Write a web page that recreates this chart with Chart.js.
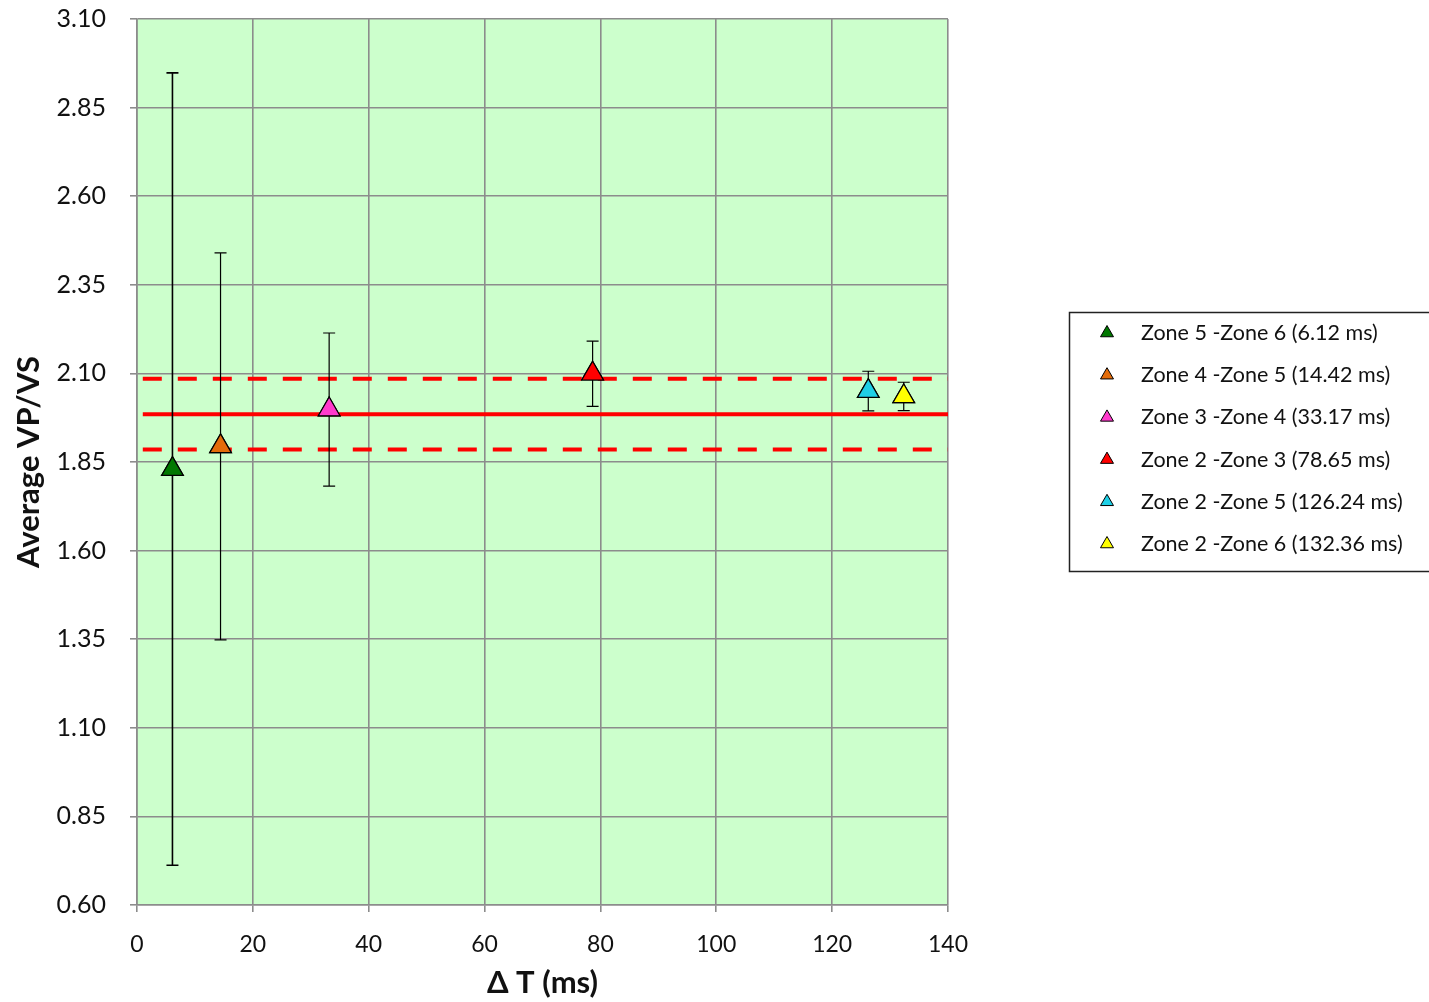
<!DOCTYPE html>
<html lang="en">
<head>
  <meta charset="UTF-8" />
  <title>Average VP/VS vs ΔT</title>
  <script src="https://cdn.jsdelivr.net/npm/chart.js"></script>
  <style>
    html, body { margin: 0; padding: 0; background: #fff; }
    #wrap { width: 1429px; height: 1002px; position: relative; }
  </style>
</head>
<body>
  <div id="wrap"><canvas id="myChart"></canvas></div>

  <script>
    // zone pairs, travel-time difference (ms), mean VP/VS and its spread
    const zoneLabels = ['Zone 5 -Zone 6', 'Zone 4 -Zone 5', 'Zone 3 -Zone 4',
                        'Zone 2 -Zone 3', 'Zone 2 -Zone 5', 'Zone 2 -Zone 6'];
    const deltaT = [6.12, 14.42, 33.17, 78.65, 126.24, 132.36];
    const avgRatio = [1.83, 1.894, 1.998, 2.099, 2.05, 2.035];
    const ratioErr = [1.118, 0.546, 0.216, 0.092, 0.056, 0.04];
    const markerColors = ['#007800', '#E46C0A', '#FF3ACC', '#FF0000', '#1ECFE6', '#FFFF00'];

    // overall mean ratio and the band around it
    const meanRatio = 1.985;
    const bandHalf = 0.10;
    const lineSpan = [1, 140];

    const yTicks = [0.60, 0.85, 1.10, 1.35, 1.60, 1.85, 2.10, 2.35, 2.60, 2.85, 3.10];
    const xTicks = [0, 20, 40, 60, 80, 100, 120, 140];

    const FONT = 'Lato, "Liberation Sans", sans-serif';

    const pointSets = zoneLabels.map((name, i) => ({
      label: name + ' (' + deltaT[i].toFixed(2) + ' ms)',
      data: [{ x: deltaT[i], y: avgRatio[i] }],
      err: [ratioErr[i]],
      pointStyle: 'triangle',
      pointRadius: 12.5,
      pointHoverRadius: 12.5,
      backgroundColor: markerColors[i],
      borderColor: '#000',
      borderWidth: 1.2,
      showLine: false,
      order: 0
    }));

    const refLine = (val, dash) => ({
      label: '',
      data: lineSpan.map(x => ({ x: x, y: val })),
      showLine: true,
      borderColor: '#FF0000',
      borderWidth: 4,
      borderDash: dash,
      pointRadius: 0,
      fill: false,
      isRef: true,
      order: 1
    });

    // green plot background
    const plotBg = {
      id: 'plotBg',
      beforeDraw(chart) {
        const { ctx, chartArea: a } = chart;
        ctx.save();
        ctx.fillStyle = '#CCFFCC';
        ctx.fillRect(a.left, a.top, a.right - a.left, a.bottom - a.top);
        ctx.restore();
      }
    };

    // vertical error bars with caps, markers redrawn on top
    const errorBars = {
      id: 'errorBars',
      afterDatasetsDraw(chart) {
        const { ctx, scales: { x, y } } = chart;
        ctx.save();
        ctx.strokeStyle = '#000';
        ctx.lineWidth = 1.6;
        chart.data.datasets.forEach((ds, di) => {
          if (!ds.err) return;
          ds.data.forEach((p, k) => {
            const px = x.getPixelForValue(p.x);
            const yTop = y.getPixelForValue(p.y + ds.err[k]);
            const yBot = y.getPixelForValue(p.y - ds.err[k]);
            ctx.beginPath();
            ctx.moveTo(px, yTop); ctx.lineTo(px, yBot);
            ctx.moveTo(px - 6, yTop); ctx.lineTo(px + 6, yTop);
            ctx.moveTo(px - 6, yBot); ctx.lineTo(px + 6, yBot);
            ctx.stroke();
          });
          const meta = chart.getDatasetMeta(di);
          meta.data.forEach(el => el.draw(ctx, chart.chartArea));
        });
        ctx.restore();
      }
    };

    // boxed legend to the right of the plot
    const boxLegend = {
      id: 'boxLegend',
      afterDraw(chart) {
        const ctx = chart.ctx;
        const left = 1069, top = 312, bottom = 571;
        ctx.save();
        ctx.fillStyle = '#fff';
        ctx.fillRect(left, top, 400, bottom - top);
        ctx.strokeStyle = '#222';
        ctx.lineWidth = 1.5;
        ctx.strokeRect(left + 0.5, top + 0.5, 400, bottom - top);
        ctx.font = '21.5px ' + FONT;
        ctx.textBaseline = 'middle';
        let rowY = 333;
        chart.data.datasets.forEach(ds => {
          if (ds.isRef) return;
          const mx = 1107, r = 7.5;
          ctx.beginPath();
          ctx.moveTo(mx, rowY - r);
          ctx.lineTo(mx + r * 0.866, rowY + r / 2);
          ctx.lineTo(mx - r * 0.866, rowY + r / 2);
          ctx.closePath();
          ctx.fillStyle = ds.backgroundColor;
          ctx.fill();
          ctx.strokeStyle = '#000';
          ctx.lineWidth = 1;
          ctx.stroke();
          ctx.fillStyle = '#111';
          ctx.fillText(ds.label, 1141, rowY);
          rowY += 42.2;
        });
        ctx.restore();
      }
    };

    new Chart(document.getElementById('myChart'), {
      type: 'scatter',
      data: {
        datasets: [
          ...pointSets,
          refLine(meanRatio, []),
          refLine(meanRatio + bandHalf, [19, 16]),
          refLine(meanRatio - bandHalf, [19, 16])
        ]
      },
      options: {
        responsive: true,
        maintainAspectRatio: false,
        animation: false,
        events: [],
        layout: { padding: { left: 10, right: 481, top: 19, bottom: 0 } },
        plugins: {
          legend: { display: false },
          tooltip: { enabled: false }
        },
        scales: {
          x: {
            type: 'linear',
            min: 0, max: 140,
            afterBuildTicks: s => { s.ticks = xTicks.map(v => ({ value: v })); },
            afterFit: s => { s.height = 97; },
            ticks: { font: { family: FONT, size: 23 }, color: '#111', padding: 19 },
            grid: { color: '#8c8c8c', lineWidth: 1.6, tickLength: 7 },
            border: { color: '#8c8c8c', width: 1.6 },
            title: {
              display: true, text: 'Δ T (ms)', color: '#111',
              font: { family: FONT, size: 31, weight: 'bold' },
              padding: { top: 0, bottom: 0 }
            }
          },
          y: {
            min: 0.6, max: 3.1,
            afterBuildTicks: s => { s.ticks = yTicks.map(v => ({ value: v })); },
            // fixed axis width; keep the label padding from pushing the plot down
            afterFit: s => { s.width = 127; s.paddingTop = 0; s.paddingBottom = 0; },
            ticks: {
              font: { family: FONT, size: 25 }, color: '#111', padding: 24,
              callback: v => Number(v).toFixed(2)
            },
            grid: { color: '#8c8c8c', lineWidth: 1.6, tickLength: 7 },
            border: { color: '#8c8c8c', width: 1.6 },
            title: {
              display: true, text: 'Average VP/VS', color: '#111',
              font: { family: FONT, size: 31, weight: 'bold' },
              padding: { top: 0, bottom: 0 }
            }
          }
        }
      },
      plugins: [plotBg, errorBars, boxLegend]
    });
  </script>
</body>
</html>
